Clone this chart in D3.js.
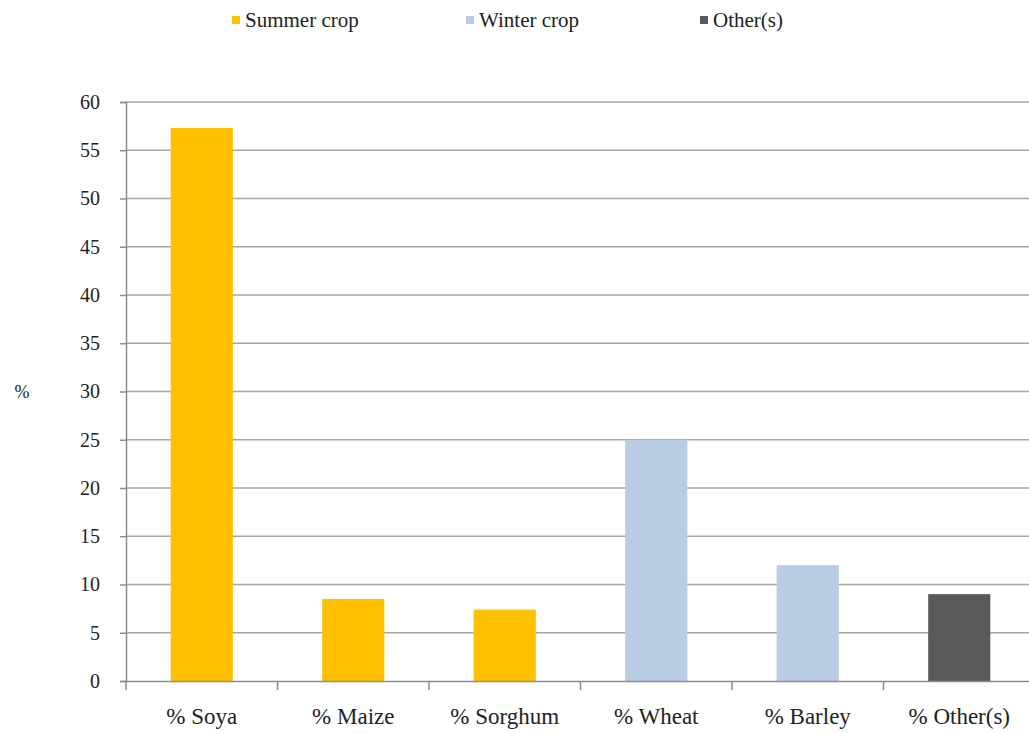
<!DOCTYPE html>
<html>
<head>
<meta charset="utf-8">
<script src="https://cdn.jsdelivr.net/npm/d3@7"></script>
<style>
  body { margin: 0; background: #fff; }
  svg, svg text { font-family: "Times New Roman", Times, "Liberation Serif", "DejaVu Serif", serif !important; }
</style>
</head>
<body>
<div id="chart"></div>
<script>
const width = 1029, height = 733;

// data
const categories = ["% Soya", "% Maize", "% Sorghum", "% Wheat", "% Barley", "% Other(s)"];
const values = [57.3, 8.5, 7.4, 25.0, 12.0, 9.0];
const groups = ["Summer crop", "Summer crop", "Summer crop", "Winter crop", "Winter crop", "Other(s)"];
const legendLabels = ["Summer crop", "Winter crop", "Other(s)"];
const colors = ["#FFC000", "#B8CCE4", "#595959"];
const yTicks = [0, 5, 10, 15, 20, 25, 30, 35, 40, 45, 50, 55, 60];

const margin = { top: 102, left: 126, bottom: 52 };
const plotW = 151.5 * categories.length;

const svg = d3.select("#chart").append("svg")
  .attr("width", width)
  .attr("height", height);

const x = d3.scaleBand()
  .domain(categories)
  .range([margin.left, margin.left + plotW])
  .padding(0);

const y = d3.scaleLinear()
  .domain([0, 60])
  .range([height - margin.bottom, margin.top]);

const color = d3.scaleOrdinal().domain(legendLabels).range(colors);

/* gridlines */
svg.append("g")
  .selectAll("line")
  .data(yTicks.filter(d => d > 0))
  .enter()
  .append("line")
  .attr("x1", margin.left)
  .attr("x2", width)
  .attr("y1", d => y(d))
  .attr("y2", d => y(d))
  .attr("stroke", "#a6a6a6")
  .attr("stroke-width", 1.5);

/* bars */
const barW = x.bandwidth() * 0.41;
svg.append("g")
  .selectAll("rect")
  .data(categories)
  .enter()
  .append("rect")
  .attr("x", d => x(d) + (x.bandwidth() - barW) / 2)
  .attr("width", barW)
  .attr("y", (d, i) => y(values[i]))
  .attr("height", (d, i) => y(0) - y(values[i]))
  .attr("fill", (d, i) => color(groups[i]));

/* y axis */
const yAxis = svg.append("g")
  .attr("transform", `translate(${margin.left},0)`)
  .call(d3.axisLeft(y).tickValues(yTicks).tickSize(6).tickPadding(20));
yAxis.attr("font-family", null).attr("font-size", 20);
yAxis.select(".domain").attr("stroke", "#8c8c8c").attr("stroke-width", 1.5);
yAxis.selectAll(".tick line").attr("stroke", "#8c8c8c").attr("stroke-width", 1.5);
yAxis.selectAll("text").attr("fill", "#222");

/* x axis */
const xAxis = svg.append("g")
  .attr("transform", `translate(0,${y(0)})`)
  .call(d3.axisBottom(x).tickSize(0).tickPadding(27));
xAxis.attr("font-family", null).attr("font-size", 23);
xAxis.select(".domain").attr("stroke", "#8c8c8c").attr("stroke-width", 1.5);
xAxis.selectAll("text").attr("fill", "#222");

// category separators
svg.append("g")
  .selectAll("line")
  .data(categories)
  .enter()
  .append("line")
  .attr("x1", d => x(d))
  .attr("x2", d => x(d))
  .attr("y1", y(0))
  .attr("y2", y(0) + 9)
  .attr("stroke", "#8c8c8c")
  .attr("stroke-width", 1.5);

/* y label */
svg.append("text")
  .attr("x", 22)
  .attr("y", 398)
  .attr("text-anchor", "middle")
  .attr("font-size", 18)
  .attr("fill", "#222")
  .text("%");

/* legend */
const legendX = [232, 466, 700];
const legend = svg.append("g")
  .selectAll("g")
  .data(legendLabels)
  .enter()
  .append("g")
  .attr("transform", (d, i) => `translate(${legendX[i]},20)`);

legend.append("rect")
  .attr("x", 0)
  .attr("y", -4)
  .attr("width", 8)
  .attr("height", 8)
  .attr("fill", d => color(d));

legend.append("text")
  .attr("x", 13)
  .attr("y", 7)
  .attr("font-size", 21)
  .attr("fill", "#222")
  .text(d => d);
</script>
</body>
</html>
